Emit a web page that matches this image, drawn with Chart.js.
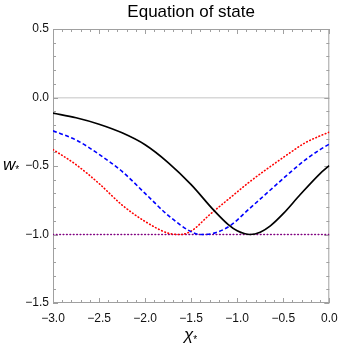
<!DOCTYPE html>
<html>
<head>
<meta charset="utf-8">
<script src="https://cdn.jsdelivr.net/npm/chart.js@4"></script>
<style>
  html, body { margin: 0; padding: 0; background: #fff; }
  #wrap { position: relative; width: 339px; height: 349px; }
  .lab { position: absolute; font-family: "Liberation Sans", Arial, sans-serif; font-style: italic; font-size: 17px; color: #000; line-height: 1; }
  .lab sub { font-size: 10px; font-style: normal; vertical-align: -3px; }
</style>
</head>
<body>
<div id="wrap">
  <canvas id="c" width="339" height="349"></canvas>
  <span class="lab" style="left:3px; top:156px">w<sub>*</sub></span>
  <span class="lab" style="left:184px; top:326px">χ<sub>*</sub></span>
</div>
<script>
// values
const chiBlack = [-3.0, -2.75, -2.5, -2.25, -2.0, -1.75, -1.5, -1.25, -1.1, -1.0, -0.86, -0.75, -0.64, -0.5, -0.32, -0.1, 0.0];
const wBlack   = [-0.114, -0.148, -0.195, -0.258, -0.345, -0.475, -0.636, -0.826, -0.926, -0.973, -1.0, -0.983, -0.937, -0.848, -0.712, -0.555, -0.497];

const chiBlue = [-3.0, -2.75, -2.5, -2.25, -2.0, -1.75, -1.5, -1.4, -1.25, -1.08, -0.86, -0.64, -0.43, -0.26, -0.1, 0.0];
const wBlue   = [-0.243, -0.31, -0.415, -0.54, -0.7, -0.86, -0.98, -1.0, -0.99, -0.937, -0.807, -0.675, -0.55, -0.455, -0.38, -0.34];

const chiRed = [-3.0, -2.75, -2.5, -2.25, -2.0, -1.75, -1.62, -1.5, -1.3, -1.08, -0.86, -0.64, -0.43, -0.26, -0.1, 0.0];
const wRed   = [-0.38, -0.49, -0.628, -0.785, -0.905, -0.99, -1.0, -0.975, -0.856, -0.734, -0.613, -0.504, -0.405, -0.33, -0.28, -0.253];

const chiFlat = [-3.0, 0.0];
const wFlat   = [-1.0, -1.0];

const xTicks = [-3.0, -2.5, -2.0, -1.5, -1.0, -0.5, 0.0];
const yTicks = [-1.5, -1.0, -0.5, 0.0, 0.5];

function pts(xs, ys) {
  return xs.map((x, i) => ({ x: x, y: ys[i] }));
}

function fmt(v) {
  return (v < 0 ? '\u2212' : '') + Math.abs(v).toFixed(1);
}

// gray frame with inward major/minor ticks (mathematica style)
const frameTicks = {
  id: 'frameTicks',
  beforeDatasetsDraw(chart) {
    const { ctx, chartArea: a, scales: { x, y } } = chart;
    ctx.save();
    ctx.strokeStyle = '#a0a0a0';
    ctx.lineWidth = 1;
    ctx.strokeRect(a.left + 0.5, a.top + 0.5, a.right - a.left - 1, a.bottom - a.top - 1);
    ctx.beginPath();
    for (let i = 0; i <= 30; i++) {
      const v = -3 + i * 0.1;
      const px = Math.round(x.getPixelForValue(v)) + 0.5;
      const len = i % 5 === 0 ? 5 : 3;
      ctx.moveTo(px, a.bottom); ctx.lineTo(px, a.bottom - len);
      ctx.moveTo(px, a.top); ctx.lineTo(px, a.top + len);
    }
    for (let i = 0; i <= 20; i++) {
      const v = -1.5 + i * 0.1;
      const py = Math.round(y.getPixelForValue(v)) + 0.5;
      const len = i % 5 === 0 ? 5 : 3;
      ctx.moveTo(a.left, py); ctx.lineTo(a.left + len, py);
      ctx.moveTo(a.right, py); ctx.lineTo(a.right - len, py);
    }
    ctx.stroke();
    ctx.restore();
  }
};

const tickFont = { family: '"Liberation Sans", Arial, sans-serif', size: 12 };

new Chart(document.getElementById('c'), {
  type: 'line',
  data: {
    datasets: [
      {
        label: 'black',
        data: pts(chiBlack, wBlack),
        borderColor: '#000000',
        borderWidth: 1.7,
        pointRadius: 0,
        cubicInterpolationMode: 'monotone'
      },
      {
        label: 'blue',
        data: pts(chiBlue, wBlue),
        borderColor: '#0000ff',
        borderWidth: 1.6,
        borderDash: [4, 2.5],
        pointRadius: 0,
        cubicInterpolationMode: 'monotone'
      },
      {
        label: 'red',
        data: pts(chiRed, wRed),
        borderColor: '#ff0000',
        borderWidth: 1.6,
        borderDash: [0.6, 2.8],
        borderCapStyle: 'round',
        pointRadius: 0,
        cubicInterpolationMode: 'monotone'
      },
      {
        label: 'flat',
        data: pts(chiFlat, wFlat),
        borderColor: '#800080',
        borderWidth: 1.6,
        borderDash: [0.6, 2.8],
        borderCapStyle: 'round',
        pointRadius: 0
      }
    ]
  },
  options: {
    responsive: false,
    animation: false,
    layout: { padding: 0 },
    plugins: {
      legend: { display: false },
      tooltip: { enabled: false },
      title: {
        display: true,
        text: 'Equation of state',
        fullSize: false,
        color: '#000',
        font: { family: '"Liberation Sans", Arial, sans-serif', size: 17, weight: 'normal' },
        padding: { top: 2, bottom: 6.6 }
      }
    },
    scales: {
      x: {
        type: 'linear',
        min: -3,
        max: 0,
        afterBuildTicks: (s) => { s.ticks = xTicks.map(v => ({ value: v })); },
        afterFit: (s) => { s.height = 46; s.paddingLeft = 0; s.paddingRight = 9.7; },
        ticks: {
          autoSkip: false,
          maxRotation: 0,
          padding: 8,
          color: '#111',
          font: tickFont,
          callback: (v) => fmt(v)
        },
        grid: { display: false, drawTicks: false },
        border: { display: false }
      },
      y: {
        type: 'linear',
        min: -1.5,
        max: 0.5,
        afterBuildTicks: (s) => { s.ticks = yTicks.map(v => ({ value: v })); },
        afterFit: (s) => { s.width = 53; },
        ticks: {
          autoSkip: false,
          padding: 4,
          color: '#111',
          font: tickFont,
          callback: (v) => fmt(v)
        },
        grid: {
          drawTicks: false,
          lineWidth: 1.5,
          color: (c) => (c.tick && c.tick.value === 0 ? '#d8d8d8' : 'rgba(0,0,0,0)')
        },
        border: { display: false }
      }
    }
  },
  plugins: [frameTicks]
});
</script>
</body>
</html>
